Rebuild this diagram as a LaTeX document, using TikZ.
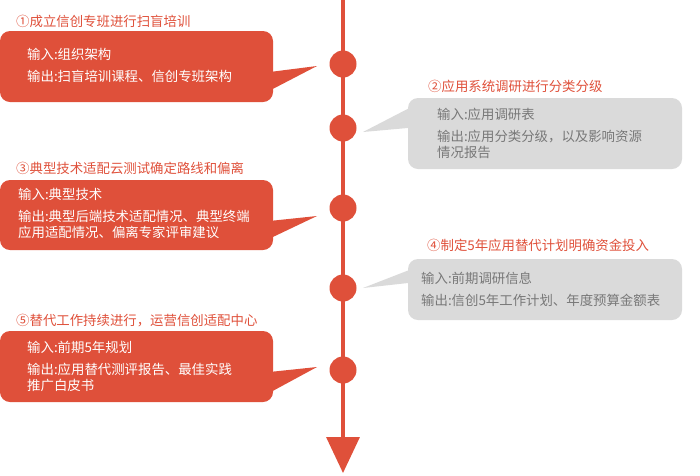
\documentclass[tikz,border=0pt]{standalone}
\usepackage{fontspec}
\setmainfont{Noto Sans CJK SC}
\usetikzlibrary{positioning,arrows.meta,calc}
\definecolor{brick}{RGB}{223,80,58}
\definecolor{mist}{RGB}{218,218,218}
\definecolor{slate}{RGB}{120,120,120}

\begin{document}
\begin{tikzpicture}[x=1pt,y=-1pt,
  every node/.style={inner sep=0pt,font=\fontsize{13.4}{16}\selectfont},
  spine/.style={line width=3.5pt,draw=brick,-{Triangle[length=36pt,width=33pt]}},
  stage/.style={circle,fill=brick,minimum size=27pt},
  redbox/.style={rounded corners=10pt,fill=brick,minimum width=273pt},
  greybox/.style={rounded corners=10pt,fill=mist,minimum width=274pt},
  head/.style={anchor=west,text=brick},
  redtxt/.style={anchor=north west,align=left,text=white},
  greytxt/.style={anchor=north west,align=left,text=slate}
]
\useasboundingbox (0,0) rectangle (700,475);
% time axis
\coordinate (top) at (343,0);
\coordinate (end) at (343,473);
\draw[spine] (top) -- (end);
\node[stage] (s1) at (343,64) {};
\node[stage] (s2) at (343,128) {};
\node[stage] (s3) at (343,208) {};
\node[stage] (s4) at (343,288) {};
\node[stage] (s5) at (343,370) {};
% bubble tips
\coordinate (p1) at (317,66);
\coordinate (p2) at (363,132);
\coordinate (p3) at (317,216);
\coordinate (p4) at (363,288);
\coordinate (p5) at (317,367);
% step 1
\node[head] (h1) at (16,21) {①成立信创专班进行扫盲培训};
\node[redbox,minimum height=71pt] (b1) at (136.5,66.5) {};
\fill[brick] ($(b1.north east)+(-2,41)$) -- (p1) -- ($(b1.north east)+(-2,59)$) -- cycle;
\node[redtxt] (t1) at (27,48) {输入:组织架构\\[6pt]输出:扫盲培训课程、信创专班架构};
% step 2
\node[head] (h2) at (428,86) {②应用系统调研进行分类分级};
\node[greybox,minimum height=71pt] (b2) at (545,133.5) {};
\fill[mist] ($(b2.north west)+(2,10)$) -- (p2) -- ($(b2.north west)+(2,30)$) -- cycle;
\node[greytxt] (t2) at (437,108) {输入:应用调研表\\[6pt]输出:应用分类分级，以及影响资源\\情况报告};
% step 3
\node[head] (h3) at (16,168) {③典型技术适配云测试确定路线和偏离};
\node[redbox,minimum height=70pt] (b3) at (136.5,215) {};
\fill[brick] ($(b3.north east)+(-2,41)$) -- (p3) -- ($(b3.north east)+(-2,58)$) -- cycle;
\node[redtxt] (t3) at (18,188) {输入:典型技术\\[6pt]输出:典型后端技术适配情况、典型终端\\应用适配情况、偏离专家评审建议};
% step 4
\node[head] (h4) at (427,245) {④制定5年应用替代计划明确资金投入};
\node[greybox,minimum height=61pt] (b4) at (545,289.5) {};
\fill[mist] ($(b4.north west)+(2,11)$) -- (p4) -- ($(b4.north west)+(2,24)$) -- cycle;
\node[greytxt] (t4) at (421,272) {输入:前期调研信息\\[6pt]输出:信创5年工作计划、年度预算金额表};
% step 5
\node[head] (h5) at (16,321) {⑤替代工作持续进行，运营信创适配中心};
\node[redbox,minimum height=71pt] (b5) at (136.5,366.5) {};
\fill[brick] ($(b5.north east)+(-2,41)$) -- (p5) -- ($(b5.north east)+(-2,61)$) -- cycle;
\node[redtxt] (t5) at (27,341) {输入:前期5年规划\\[6pt]输出:应用替代测评报告、最佳实践\\推广白皮书};
\end{tikzpicture}
\end{document}
